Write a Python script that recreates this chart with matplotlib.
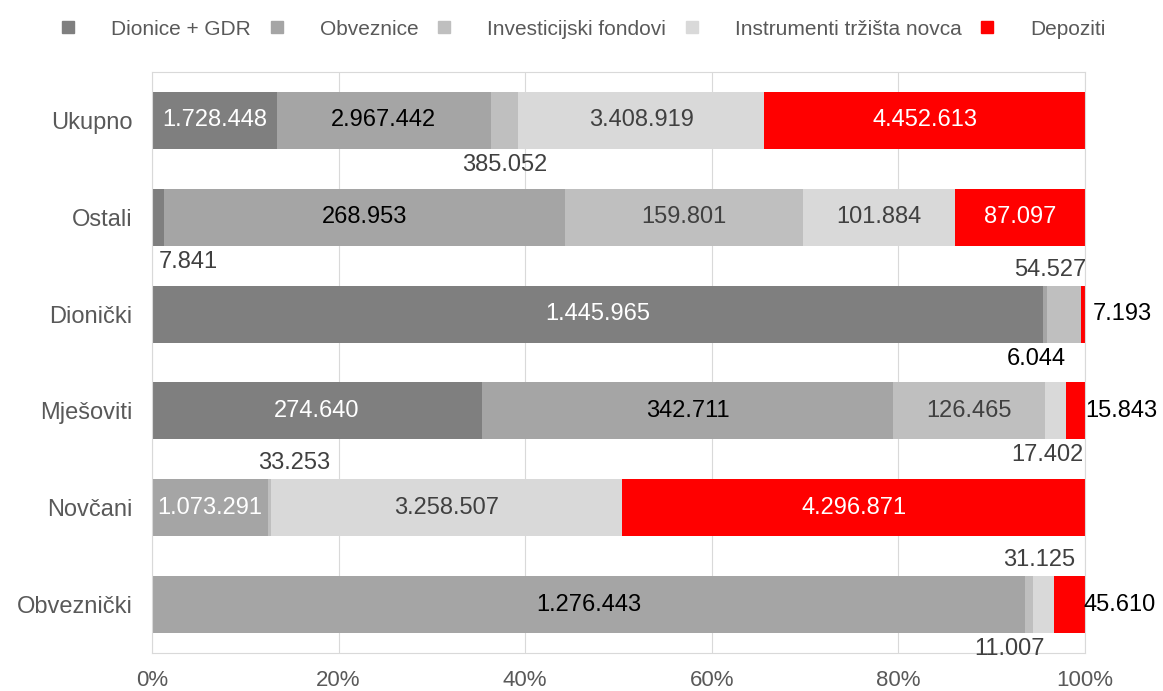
import numpy as np
import matplotlib.pyplot as plt
from matplotlib.lines import Line2D

plt.rcParams['font.family'] = ['Liberation Sans', 'DejaVu Sans']

# Data
categories = ['Ukupno', 'Ostali', 'Dionički', 'Mješoviti', 'Novčani', 'Obveznički']
series_names = ['Dionice + GDR', 'Obveznice', 'Investicijski fondovi',
                'Instrumenti tržišta novca', 'Depoziti']

dionice = [1728448, 7841, 1445965, 274640, 0, 0]
obveznice = [2967442, 268953, 6044, 342711, 1073291, 1276443]
inv_fondovi = [385052, 159801, 54527, 126465, 33253, 11007]
instrumenti = [3408919, 101884, 0, 17402, 3258507, 31125]
depoziti = [4452613, 87097, 7193, 15843, 4296871, 45610]

# Style
colors = ['#7f7f7f', '#a5a5a5', '#bfbfbf', '#d9d9d9', '#ff0000']
inside_text = ['white', 'black', '#404040', '#404040', 'white']
label_size = 17

# small segments get their label outside the bar: (row, series) -> (side, dx px, colour)
outside = {
    (0, 2): ('below', 0, '#404040'),
    (1, 0): ('below', 30, '#404040'),
    (2, 1): ('below', -9, 'black'),
    (2, 2): ('above', -14, '#404040'),
    (2, 4): ('right', 8, 'black'),
    (3, 3): ('below', -8, '#404040'),
    (3, 4): ('right', 0, 'black'),
    (4, 2): ('above', 25, '#404040'),
    (5, 2): ('below', -19, '#404040'),
    (5, 3): ('above', -4, '#404040'),
    (5, 4): ('right', -2, 'black'),
}
inside_override = {(4, 1): 'white'}


def fmt(v):
    return f'{v:,}'.replace(',', '.')


data = np.array([dionice, obveznice, inv_fondovi, instrumenti, depoziti], dtype=float)
pct = data / data.sum(axis=0) * 100

fig = plt.figure(figsize=(11.63, 6.91), dpi=100)
ax = fig.add_axes([152 / 1163, 1 - 653 / 691, 933 / 1163, 581 / 691])

y = np.arange(len(categories))
bar_h = 0.59
px = 0.72  # points per pixel at 100 dpi

left = np.zeros(len(categories))
for s in range(len(series_names)):
    ax.barh(y, pct[s], left=left, height=bar_h, color=colors[s], zorder=2)
    for r in range(len(categories)):
        v = data[s, r]
        if v == 0:
            continue
        mid = left[r] + pct[s, r] / 2
        if (r, s) in outside:
            side, dx, col = outside[(r, s)]
            if side == 'above':
                ax.annotate(fmt(int(v)), (mid, y[r] - bar_h / 2), xytext=(dx * px, 16 * px),
                            textcoords='offset points', ha='center', va='center',
                            fontsize=label_size, color=col)
            elif side == 'below':
                ax.annotate(fmt(int(v)), (mid, y[r] + bar_h / 2), xytext=(dx * px, -16 * px),
                            textcoords='offset points', ha='center', va='center',
                            fontsize=label_size, color=col)
            else:
                ax.annotate(fmt(int(v)), (100, y[r]), xytext=(dx * px, 0),
                            textcoords='offset points', ha='left', va='center',
                            fontsize=label_size, color=col, annotation_clip=False)
        else:
            col = inside_override.get((r, s), inside_text[s])
            ax.text(mid, y[r], fmt(int(v)), ha='center', va='center',
                    fontsize=label_size, color=col, zorder=3)
    left += pct[s]

ax.set_xlim(0, 100)
ax.set_ylim(len(categories) - 0.5, -0.5)
ax.set_xticks(np.arange(0, 101, 20))
ax.set_xticklabels([f'{t}%' for t in range(0, 101, 20)])
ax.set_yticks(y)
ax.set_yticklabels(categories)
ax.tick_params(axis='x', length=0, pad=12, labelsize=16, labelcolor='#595959')
ax.tick_params(axis='y', length=0, pad=14, labelsize=17, labelcolor='#595959')
ax.grid(axis='x', color='#d9d9d9', linewidth=0.8, zorder=0)
ax.set_axisbelow(True)
for sp in ax.spines.values():
    sp.set_color('#d9d9d9')
    sp.set_linewidth(0.8)

handles = [Line2D([], [], marker='s', linestyle='none', markersize=8, color=c) for c in colors]
fig.legend(handles, series_names, loc='center', bbox_to_anchor=(0.502, 0.958), ncol=5,
           frameon=False, fontsize=15, labelcolor='#595959', handlelength=0.6,
           handletextpad=1.75, columnspacing=0.95, borderpad=0)

fig.savefig('out.png', dpi=100)
